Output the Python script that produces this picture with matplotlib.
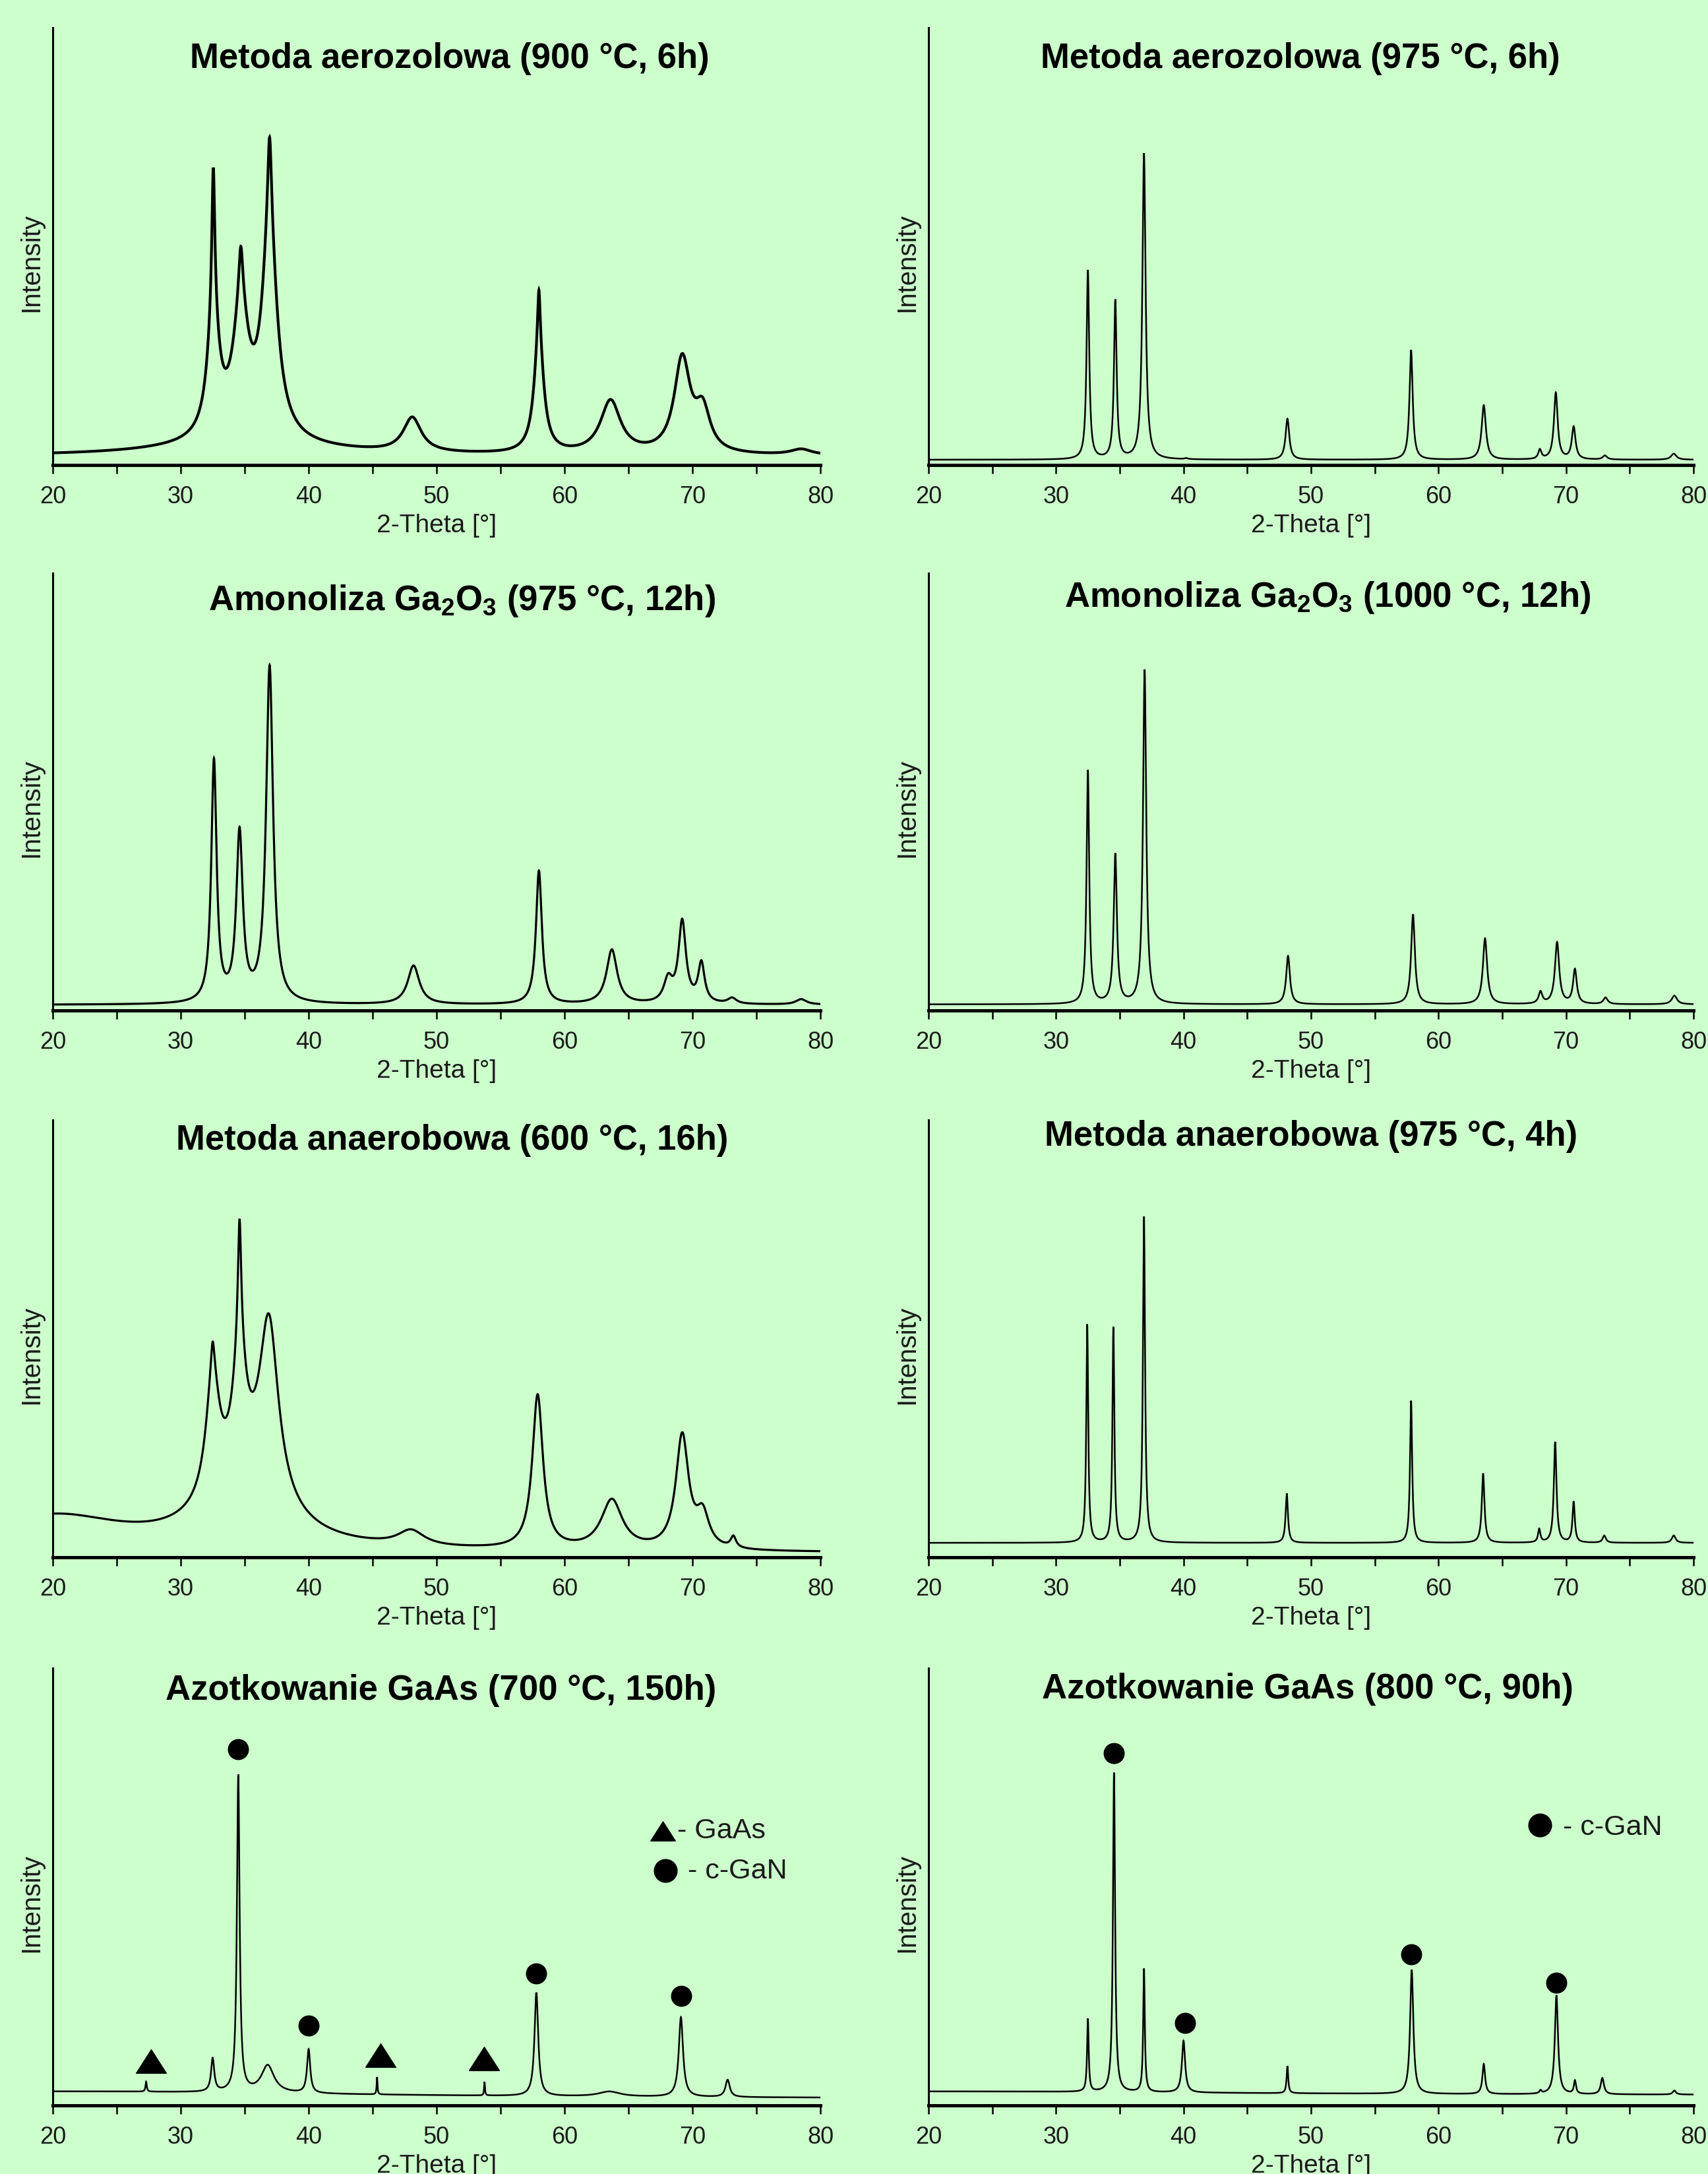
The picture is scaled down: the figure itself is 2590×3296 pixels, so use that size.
import numpy as np
import matplotlib
matplotlib.use("Agg")
import matplotlib.pyplot as plt
from matplotlib.ticker import MultipleLocator

plt.rcParams['font.family'] = ['Liberation Sans', 'DejaVu Sans']
plt.rcParams['mathtext.fontset'] = 'custom'
plt.rcParams['mathtext.rm'] = 'Liberation Sans'
plt.rcParams['mathtext.bf'] = 'Liberation Sans:bold'

BG = '#CCFFCC'

# panel titles (row by row, left then right)
titles = [
    'Metoda aerozolowa (900 °C, 6h)',
    'Metoda aerozolowa (975 °C, 6h)',
    r'Amonoliza Ga$_\mathbf{2}$O$_\mathbf{3}$ (975 °C, 12h)',
    r'Amonoliza Ga$_\mathbf{2}$O$_\mathbf{3}$ (1000 °C, 12h)',
    'Metoda anaerobowa (600 °C, 16h)',
    'Metoda anaerobowa (975 °C, 4h)',
    'Azotkowanie GaAs (700 °C, 150h)',
    'Azotkowanie GaAs (800 °C, 90h)',
]

# peak lists: position [deg], intensity at peak [% of axis], FWHM [deg]
aero900_pos = [32.55, 34.7, 36.95, 48.1, 58.0, 63.6, 69.2, 70.8, 78.5]
aero900_height = [68, 50, 75, 11, 40, 15, 25.5, 15.5, 3.7]
aero900_fwhm = [1.1, 1.5, 1.4, 1.7, 0.9, 1.9, 1.5, 1.4, 2.0]
aero900_sharp = [0.55, 0.3, 0.3, 0, 0.3, 0, 0, 0, 0]
aero900_base = 2.0
# broad amorphous hump under the main group: position, amplitude, FWHM
aero900_bg = ([35.0], [3.0], [14.0])

aero975_pos = [32.5, 34.65, 36.9, 40.2, 48.15, 57.85, 63.55, 67.95, 69.2, 70.6, 73.05, 78.45]
aero975_height = [44.6, 37.9, 71.3, 1.6, 10.6, 26.3, 13.7, 3.7, 16.6, 8.9, 2.2, 2.6]
aero975_fwhm = [0.25, 0.25, 0.3, 0.3, 0.35, 0.3, 0.4, 0.3, 0.35, 0.35, 0.4, 0.5]
aero975_base = 1.2

amon975_pos = [32.6, 34.6, 36.95, 48.2, 58.0, 63.7, 68.1, 69.2, 70.7, 73.1, 78.5]
amon975_height = [57.7, 42, 79, 10.3, 32, 14, 8.5, 21, 11.5, 3, 2.6]
amon975_fwhm = [0.5, 0.6, 0.65, 1.1, 0.55, 1.0, 0.8, 0.7, 0.6, 0.8, 1.0]
amon975_base = 1.3

amon1000_pos = [32.5, 34.65, 36.95, 48.2, 58.0, 63.65, 68.0, 69.3, 70.7, 73.1, 78.5]
amon1000_height = [55, 36, 78, 12.5, 22, 16.5, 4.5, 15.7, 9.6, 3, 3.4]
amon1000_fwhm = [0.25, 0.3, 0.3, 0.35, 0.35, 0.4, 0.35, 0.4, 0.35, 0.4, 0.5]
amon1000_base = 1.4

anae600_pos = [32.5, 34.6, 36.9, 48.0, 57.9, 63.7, 69.2, 70.8, 73.2]
anae600_height = [49.3, 77.4, 55.7, 6.4, 37.3, 13.4, 28.6, 12.2, 5]
anae600_fwhm = [1.3, 1.2, 1.8, 2.5, 1.0, 2.0, 1.2, 1.2, 0.5]
anae600_sharp = [0.2, 0.5, 0, 0, 0, 0, 0, 0, 0]
anae600_base = 1.0
# low-angle scattering and amorphous hump
anae600_bg = ([20.0, 35.0], [8.0, 14.0], [14.0, 7.0])

anae975_pos = [32.45, 34.5, 36.9, 48.1, 57.85, 63.5, 67.9, 69.15, 70.6, 73.0, 78.45]
anae975_height = [53.3, 52.7, 77.9, 14.6, 35.8, 19.2, 6.6, 26.4, 12.8, 5, 5]
anae975_fwhm = [0.18, 0.18, 0.2, 0.22, 0.2, 0.25, 0.22, 0.25, 0.22, 0.3, 0.35]
anae975_base = 3.3

azot700_pos = [27.3, 32.5, 34.5, 36.8, 40.0, 45.35, 53.75, 57.8, 63.5, 69.1, 72.75]
azot700_height = [5.4, 10.9, 75.7, 9.3, 12.9, 6.5, 5.4, 25.8, 3.2, 20.2, 5.9]
azot700_fwhm = [0.12, 0.3, 0.25, 1.2, 0.3, 0.08, 0.08, 0.35, 2.0, 0.4, 0.4]
azot700_base = 1.45
azot700_bg = ([20.0], [1.75], [60.0])

azot800_pos = [32.5, 34.55, 36.9, 40.0, 48.15, 57.9, 63.55, 68.0, 69.25, 70.7, 72.85, 78.5]
azot800_height = [19.9, 76.1, 31.3, 14.8, 9, 31, 9.5, 3.6, 25.2, 5.8, 6.3, 3.4]
azot800_fwhm = [0.15, 0.2, 0.15, 0.3, 0.15, 0.3, 0.25, 0.2, 0.3, 0.2, 0.3, 0.3]
azot800_base = 2.3
azot800_bg = ([20.0], [0.9], [60.0])

# phase markers in the GaAs panels
gan700_x = [34.5, 40.0, 57.8, 69.1]
gan700_y = [81.4, 18.3, 30.2, 25.0]
gaas700_x = [27.7, 45.6, 53.7]
gaas700_y = [10.1, 11.5, 10.7]
gan800_x = [34.55, 40.1, 57.85, 69.25]
gan800_y = [80.6, 18.9, 34.5, 28.1]

panels = [
    (aero900_pos, aero900_height, aero900_fwhm, aero900_base, aero900_sharp, aero900_bg),
    (aero975_pos, aero975_height, aero975_fwhm, aero975_base, None, None),
    (amon975_pos, amon975_height, amon975_fwhm, amon975_base, None, None),
    (amon1000_pos, amon1000_height, amon1000_fwhm, amon1000_base, None, None),
    (anae600_pos, anae600_height, anae600_fwhm, anae600_base, anae600_sharp, anae600_bg),
    (anae975_pos, anae975_height, anae975_fwhm, anae975_base, None, None),
    (azot700_pos, azot700_height, azot700_fwhm, azot700_base, None, azot700_bg),
    (azot800_pos, azot800_height, azot800_fwhm, azot800_base, None, azot800_bg),
]
line_w = [3.0, 1.8, 2.3, 1.8, 2.3, 1.8, 1.8, 1.8]
title_x = [0.517, 0.486, 0.533, 0.522, 0.52, 0.5, 0.506, 0.496]
title_y = [0.908, 0.908, 0.915, 0.923, 0.932, 0.941, 0.928, 0.93]


def peak_shape(x, x0, w, eta=0.0):
    broad = 1.0 / (1.0 + ((x - x0) / (w / 2)) ** 2)
    narrow = 1.0 / (1.0 + ((x - x0) / (w / 8)) ** 2)
    return (1 - eta) * broad + eta * narrow


def background(x, base, bg):
    y = np.full_like(np.asarray(x, dtype=float), base)
    if bg is not None:
        for p, a, w in zip(*bg):
            y += a * peak_shape(x, p, w)
    return y


def spectrum(pos, height, fwhm, base, sharp, bg):
    n = len(pos)
    if sharp is None:
        sharp = [0] * n
    # amplitudes so that the summed profile hits the read heights at each peak
    A = np.array([[peak_shape(pos[i], pos[j], fwhm[j], sharp[j]) for j in range(n)]
                  for i in range(n)])
    target = np.array(height, dtype=float) - background(np.array(pos, dtype=float), base, bg)
    amp = np.linalg.solve(A, target)
    x = np.union1d(np.linspace(20, 80, 6001), [p for p in pos if 20 <= p <= 80])
    y = background(x, base, bg)
    for j in range(n):
        y += amp[j] * peak_shape(x, pos[j], fwhm[j], sharp[j])
    return x, y


W, H = 2590, 3296
col_left = [80, 1408]
col_w = [1164, 1160]
row_bottom = [705, 1532, 2361, 3192]
ax_h = 663

fig = plt.figure(figsize=(W / 100, H / 100), dpi=100, facecolor=BG)
axes = []
for k, (pos, height, fwhm, base, sharp, bg) in enumerate(panels):
    r, c = divmod(k, 2)
    ax = fig.add_axes([col_left[c] / W, 1 - row_bottom[r] / H, col_w[c] / W, ax_h / H])
    ax.set_facecolor(BG)
    x, y = spectrum(pos, height, fwhm, base, sharp, bg)
    ax.plot(x, y, color='black', lw=line_w[k], solid_joinstyle='miter')
    ax.set_xlim(20, 80)
    ax.set_ylim(0, 100)
    ax.spines['top'].set_visible(False)
    ax.spines['right'].set_visible(False)
    ax.spines['left'].set_linewidth(2.2)
    ax.spines['bottom'].set_linewidth(3.6)
    ax.xaxis.set_major_locator(MultipleLocator(10))
    ax.xaxis.set_minor_locator(MultipleLocator(5))
    ax.tick_params(axis='x', which='both', direction='out', length=9, width=1.8,
                   pad=13, labelsize=26, labelcolor='#1a1a1a')
    ax.set_yticks([])
    ax.set_xlabel('2-Theta [°]', fontsize=28, color='#1a1a1a')
    ax.xaxis.set_label_coords(0.5, -0.112)
    ax.set_ylabel('Intensity', fontsize=29, color='#1a1a1a')
    ax.yaxis.set_label_coords(-0.012, 0.463)
    ax.text(title_x[k], title_y[k], titles[k], transform=ax.transAxes,
            ha='center', va='baseline', fontsize=38, fontweight='bold')
    axes.append(ax)

tri = [(-1, -0.78), (1, -0.78), (0, 0.78), (-1, -0.78)]

ax7 = axes[6]
ax7.plot(gan700_x, gan700_y, 'o', color='black', ms=22, ls='none')
ax7.plot(gaas700_x, gaas700_y, marker=tri, color='black', ms=33, ls='none')
ax7.plot([0.795], [0.627], marker=tri, color='black', ms=27, transform=ax7.transAxes)
ax7.plot([0.798], [0.537], 'o', color='black', ms=25, transform=ax7.transAxes)
ax7.text(0.814, 0.627, '- GaAs', transform=ax7.transAxes, ha='left', va='center',
         fontsize=31, color='#1a1a1a')
ax7.text(0.827, 0.535, '- c-GaN', transform=ax7.transAxes, ha='left', va='center',
         fontsize=31, color='#1a1a1a')

ax8 = axes[7]
ax8.plot(gan800_x, gan800_y, 'o', color='black', ms=22, ls='none')
ax8.plot([0.799], [0.641], 'o', color='black', ms=25, transform=ax8.transAxes)
ax8.text(0.829, 0.635, '- c-GaN', transform=ax8.transAxes, ha='left', va='center',
         fontsize=31, color='#1a1a1a')

fig.savefig('out.png', dpi=100, facecolor=BG)
